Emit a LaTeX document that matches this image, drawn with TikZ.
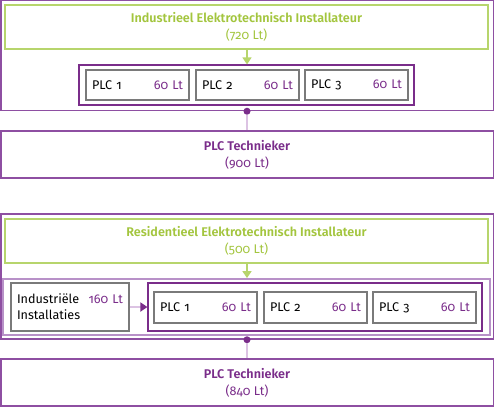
\documentclass[tikz,border=0pt]{standalone}
\usepackage{fontspec}
\setmainfont{Fira Sans}[Numbers=OldStyle,UprightFont=*,BoldFont=* SemiBold]
\usetikzlibrary{arrows.meta}
\definecolor{dpurple}{HTML}{7A2D8A}
\definecolor{mpurple}{HTML}{8E4FA2}
\definecolor{lpurple}{HTML}{B891C8}
\definecolor{llpurple}{HTML}{DCC3E3}
\definecolor{lgreen}{HTML}{B7D56C}
\definecolor{tgreen}{HTML}{A3C53E}
\definecolor{boxgray}{HTML}{7A7A7A}
\tikzset{
  frame/.style={draw=mpurple,line width=1.5pt,rectangle,inner sep=0pt},
  greenbox/.style={draw=lgreen,line width=1.5pt,rectangle,inner sep=0pt,minimum width=483pt,minimum height=44pt,align=center,text=tgreen,font=\fontsize{12.6}{17}\selectfont},
  group/.style={draw=dpurple,line width=1.2pt,rectangle,inner sep=0pt},
  container/.style={draw=lpurple,line width=1.8pt,rectangle,inner sep=0pt},
  plcbox/.style={draw=boxgray,line width=1.6pt,rectangle,inner sep=0pt,minimum width=103pt,minimum height=30pt,text width=91pt,align=left,font=\fontsize{12.6}{14}\selectfont},
  techbox/.style={draw=mpurple,line width=1.5pt,rectangle,inner sep=0pt,minimum width=492.5pt,minimum height=47pt,align=center,text=dpurple,font=\fontsize{12.6}{17}\selectfont},
  garrow/.style={draw=lgreen,line width=1.5pt,-{Triangle[width=9pt,length=7pt]}},
  parrow/.style={draw=llpurple,line width=2pt,-{Triangle[width=9pt,length=7pt,color=dpurple]}},
  pline/.style={draw=llpurple,line width=2pt},
  pdot/.style={circle,fill=dpurple,inner sep=0pt,minimum size=7pt},
}
\newcommand{\lt}[1]{\textcolor{dpurple}{#1}}
\begin{document}
\begin{tikzpicture}[x=1pt,y=-1pt]
\useasboundingbox (0,0) rectangle (494,408);
% top section
\node[frame,minimum width=492.5pt,minimum height=109.75pt] (outerA) at (247,55.6) {};
\node[greenbox] (greenA) at (246.5,27) {\textbf{Industrieel Elektrotechnisch Installateur}\\(720 Lt)};
\node[group,minimum width=335pt,minimum height=40pt] (groupA) at (246.5,85) {};
\node[plcbox] (plcA1) at (137.5,85) {PLC 1\hfill\lt{60 Lt}};
\node[plcbox] (plcA2) at (247.5,85) {PLC 2\hfill\lt{60 Lt}};
\node[plcbox] (plcA3) at (356.5,85) {PLC 3\hfill\lt{60 Lt}};
\node[techbox] (techA) at (247,154.5) {\textbf{PLC Technieker}\\(900 Lt)};
\draw[garrow] (greenA.south -| 247,0) -- (groupA.north -| 247,0);
\node[pdot] (dotA) at (outerA.south -| 247,0) {};
\draw[pline] (dotA) -- (techA.north -| dotA);
% bottom section
\node[frame,minimum width=492.5pt,minimum height=125pt] (outerB) at (247,276.5) {};
\node[greenbox] (greenB) at (246.5,241) {\textbf{Residentieel Elektrotechnisch Installateur}\\(500 Lt)};
\node[container,minimum width=487pt,minimum height=56pt] (contB) at (246.5,307) {};
\node[plcbox,minimum width=118pt,minimum height=48pt,text width=106pt,font=\fontsize{12.6}{16}\selectfont] (indus) at (70,307) {Industriële\hfill\lt{160 Lt}\\Installaties};
\node[group,minimum width=334pt,minimum height=48pt] (groupB) at (315,307) {};
\node[plcbox,minimum height=31pt] (plcB1) at (205.5,307.5) {PLC 1\hfill\lt{60 Lt}};
\node[plcbox,minimum height=31pt] (plcB2) at (315.5,307.5) {PLC 2\hfill\lt{60 Lt}};
\node[plcbox,minimum height=31pt] (plcB3) at (424.5,307.5) {PLC 3\hfill\lt{60 Lt}};
\node[techbox] (techB) at (247,382.5) {\textbf{PLC Technieker}\\(840 Lt)};
\draw[garrow] (greenB.south -| 247,0) -- (contB.north -| 247,0);
\draw[parrow] (indus.east) -- (groupB.west);
\node[pdot] (dotB) at (outerB.south -| 247,0) {};
\draw[pline] (dotB) -- (techB.north -| dotB);
\end{tikzpicture}
\end{document}
